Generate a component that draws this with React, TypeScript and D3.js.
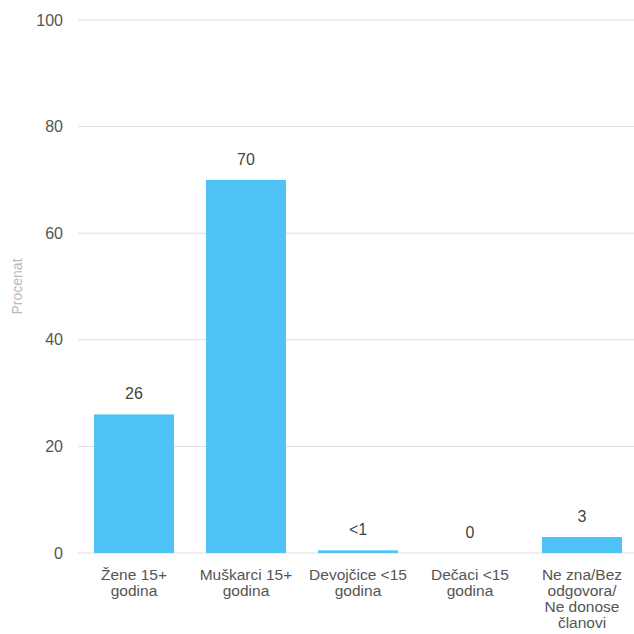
import React from "react";
import * as d3 from "d3";

const categories = [
  "Žene 15+\ngodina",
  "Muškarci 15+\ngodina",
  "Devojčice <15\ngodina",
  "Dečaci <15\ngodina",
  "Ne zna/Bez\nodgovora/\nNe donose\nčlanovi",
];
const values = [26, 70, 0.5, 0, 3];
const valueLabels = ["26", "70", "<1", "0", "3"];
const yTicks = [0, 20, 40, 60, 80, 100];
const yTitle = "Procenat";

const W = 634;
const H = 634;
const left = 78;
const top = 20;
const bottom = 553;
const gridRight = 634;
const font = "'Liberation Sans', Arial, sans-serif";

export default function App() {
  const x = d3
    .scaleBand<string>()
    .domain(categories)
    .range([left, left + 560])
    .paddingInner(32 / 112)
    .paddingOuter(16 / 112);
  const y = d3.scaleLinear().domain([0, 100]).range([bottom, top]);

  return (
    <svg
      width={W}
      height={H}
      style={{ position: "absolute", left: 0, top: 0, background: "#fff" }}
      fontFamily={font}
    >
      {yTicks.map((t) => (
        <g key={t}>
          <line x1={left} x2={gridRight} y1={y(t)} y2={y(t)} stroke="#dcdcdc" strokeWidth={1} />
          <text x={63} y={y(t)} dy="0.35em" textAnchor="end" fontSize={16} fill="#555">
            {t}
          </text>
        </g>
      ))}
      <text
        transform={`translate(22, ${(top + bottom) / 2}) rotate(-90)`}
        textAnchor="middle"
        fontSize={14}
        fill="#b8b8b8"
      >
        {yTitle}
      </text>
      {categories.map((c, i) => {
        const bx = x(c)!;
        const bw = x.bandwidth();
        const cx = bx + bw / 2;
        return (
          <g key={c}>
            {values[i] > 0 && (
              <rect x={bx} y={y(values[i])} width={bw} height={y(0) - y(values[i])} fill="#4fc3f7" />
            )}
            <text x={cx} y={y(values[i]) - 21} dy="0.35em" textAnchor="middle" fontSize={16} fill="#444">
              {valueLabels[i]}
            </text>
            {c.split("\n").map((line, j) => (
              <text key={j} x={cx} y={575 + j * 16} dy="0.35em" textAnchor="middle" fontSize={15.5} fill="#555">
                {line}
              </text>
            ))}
          </g>
        );
      })}
    </svg>
  );
}
